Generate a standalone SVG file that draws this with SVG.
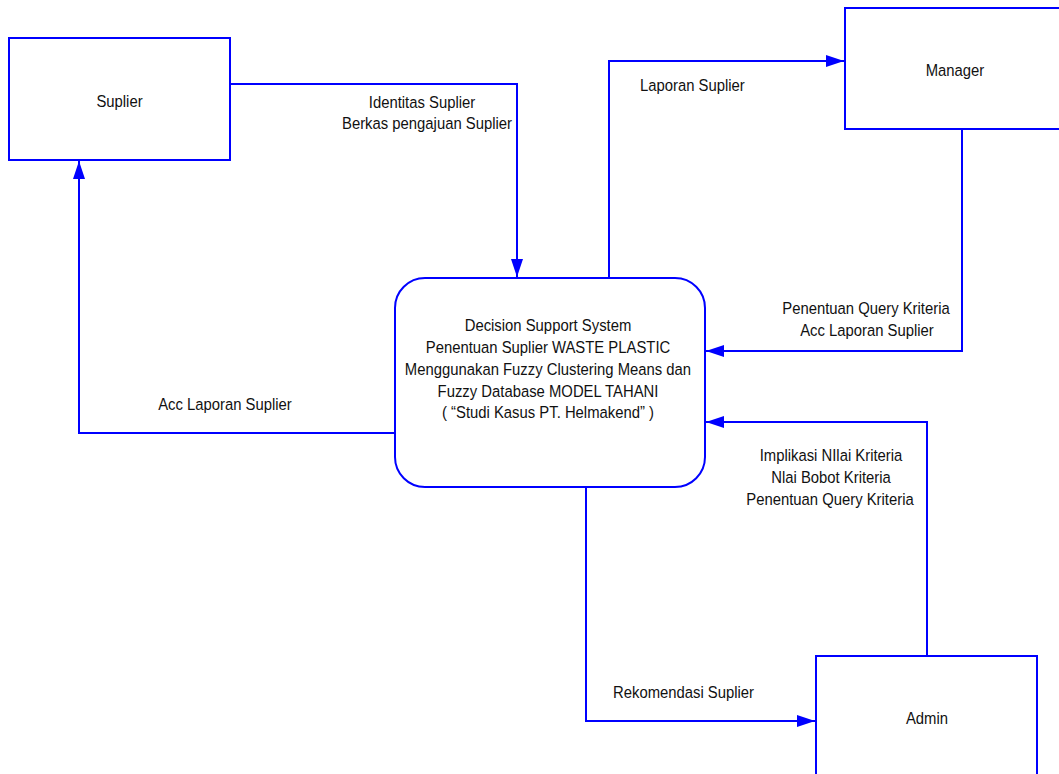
<svg xmlns="http://www.w3.org/2000/svg" width="1059" height="774" viewBox="0 0 1059 774">
  <style>
    .box { fill: #ffffff; stroke: #0000ff; stroke-width: 2; }
    .flow { fill: none; stroke: #0000ff; stroke-width: 2; marker-end: url(#arrow); }
    text { font-family: "Liberation Sans", Arial, sans-serif; font-size: 16.5px; fill: #111111;
           transform-box: fill-box; transform-origin: center; transform: scaleX(0.9); }
    .c { text-anchor: middle; }
    .l { transform-origin: left center; }
  </style>
  <defs>
    <marker id="arrow" viewBox="0 0 18 12" refX="18" refY="6" markerWidth="18" markerHeight="12" markerUnits="userSpaceOnUse" orient="auto">
      <path d="M0,0 L18,6 L0,12 Z" fill="#0000ff"/>
    </marker>
  </defs>
  <rect width="1059" height="774" fill="#ffffff"/>

  <!-- data flows -->
  <g id="connectors">
    <polyline class="flow" points="230,84 517,84 517,277"/>
    <polyline class="flow" points="395,433 79,433 79,161"/>
    <polyline class="flow" points="609,278 609,61 844,61"/>
    <polyline class="flow" points="962,129 962,351 706,351"/>
    <polyline class="flow" points="927,656 927,422 706,422"/>
    <polyline class="flow" points="586,487 586,721 815,721"/>
    <text class="c" x="422" y="108">Identitas Suplier</text>
    <text class="c" x="427" y="129">Berkas pengajuan Suplier</text>
    <text class="c" x="225" y="410">Acc Laporan Suplier</text>
    <text class="l" x="640" y="91">Laporan Suplier</text>
    <text class="c" x="866" y="314">Penentuan Query Kriteria</text>
    <text class="c" x="867" y="336">Acc Laporan Suplier</text>
    <text class="c" x="831" y="461">Implikasi NIlai Kriteria</text>
    <text class="c" x="831" y="483">Nlai Bobot Kriteria</text>
    <text class="c" x="830" y="505">Penentuan Query Kriteria</text>
    <text class="l" x="613" y="698">Rekomendasi Suplier</text>
  </g>

  <g id="suplier">
    <rect class="box" x="9" y="38" width="221" height="122"/>
    <text class="c" x="119.5" y="107">Suplier</text>
  </g>

  <g id="manager">
    <rect class="box" x="845" y="8" width="225" height="121"/>
    <text class="c" x="955" y="76">Manager</text>
  </g>

  <g id="admin">
    <rect class="box" x="816" y="656" width="221" height="130"/>
    <text class="c" x="927" y="724">Admin</text>
  </g>

  <g id="process">
    <rect class="box" x="395" y="278" width="310" height="209" rx="30" ry="30"/>
    <text class="c" x="548" y="331">Decision Support System</text>
    <text class="c" x="548" y="353">Penentuan Suplier WASTE PLASTIC</text>
    <text class="c" x="548" y="375">Menggunakan Fuzzy Clustering Means dan</text>
    <text class="c" x="548" y="397">Fuzzy Database MODEL TAHANI</text>
    <text class="c" x="548" y="418">( “Studi Kasus PT. Helmakend” )</text>
  </g>
</svg>
